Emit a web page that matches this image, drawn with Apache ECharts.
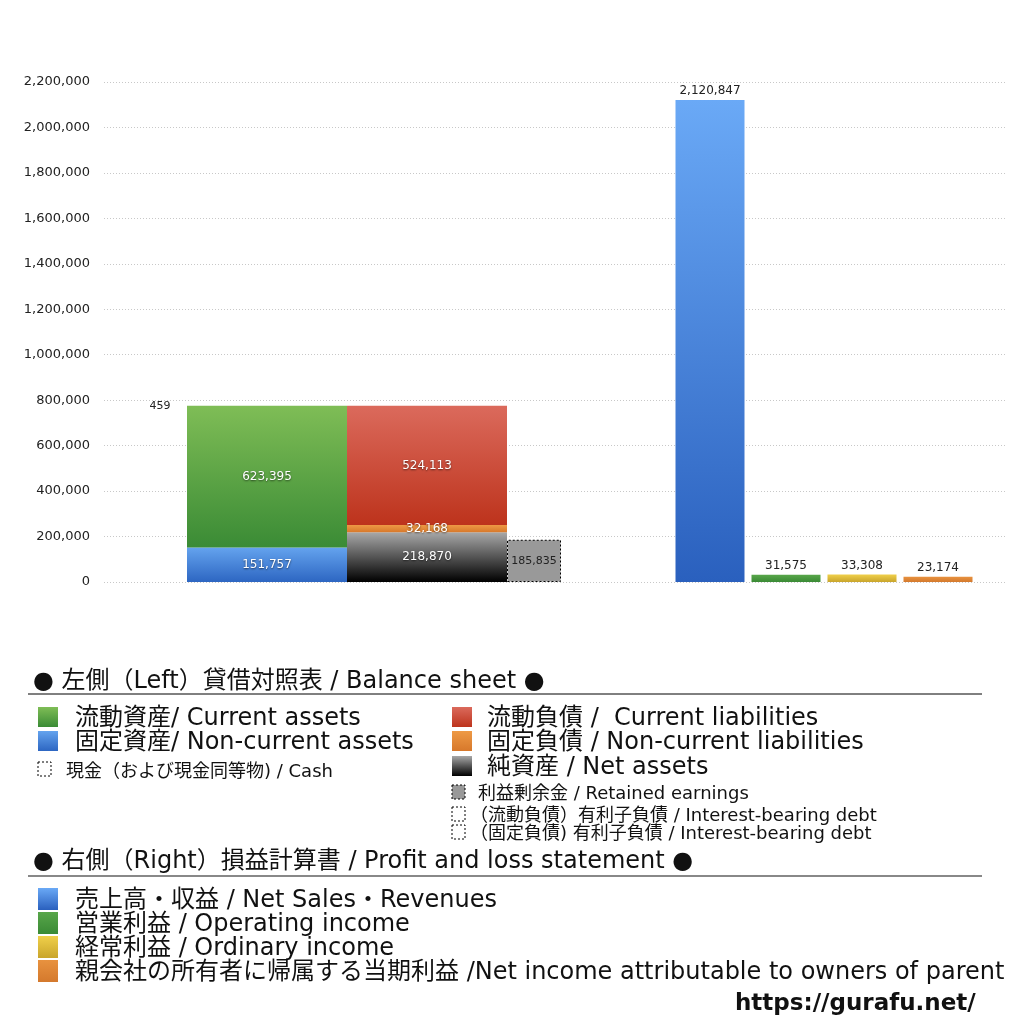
<!DOCTYPE html>
<html>
<head>
<meta charset="utf-8">
<script src="https://cdn.jsdelivr.net/npm/echarts@6/dist/echarts.min.js"></script>
<style>
  html, body { margin: 0; padding: 0; background: #fff; }
  #main { width: 1024px; height: 1024px; }
</style>
</head>
<body>
<div id="main"></div>
<script>
// balance sheet (left)
var cash = 459;
var currentAssets = 623395;
var nonCurrentAssets = 151757;
var currentLiabilities = 524113;
var nonCurrentLiabilities = 32168;
var netAssets = 218870;
var retainedEarnings = 185835;

// profit and loss (right)
var plNames = ['売上高・収益', '営業利益', '経常利益', '親会社株主に帰属する当期純利益'];
var plValues = [2120847, 31575, 33308, 23174];

var yTicks = { min: 0, max: 2200000, interval: 200000 };

// latin glyphs from DejaVu, japanese falls back to Noto CJK
var FONT = '"DejaVu Sans", "Noto Sans CJK JP", sans-serif';

function grad(top, bottom) {
  return { type: 'linear', x: 0, y: 0, x2: 0, y2: 1,
    colorStops: [{ offset: 0, color: top }, { offset: 1, color: bottom }] };
}

var C = {
  green: grad('#7fbd56', '#3a8b35'),
  blue: grad('#64a3ee', '#2d66c2'),
  red: grad('#db6a5c', '#bd331c'),
  orange: grad('#ee9a45', '#d7782b'),
  black: grad('#a8a8a8', '#000000'),
  gray: '#999999',
  plBlue: grad('#6aa9f6', '#2a60be'),
  plGreen: grad('#58a64a', '#3a8a35'),
  plYellow: grad('#f0d04a', '#c9a52c'),
  plOrange: grad('#e8923f', '#d4792d')
};

var plColors = [C.plBlue, C.plGreen, C.plYellow, C.plOrange];

function fmt(p) { return p.value.toLocaleString('en-US'); }

var inLabel = {
  show: true, position: 'inside', color: '#fff', fontSize: 12, fontFamily: FONT,
  textShadowColor: 'rgba(0,0,0,0.6)', textShadowBlur: 2, textShadowOffsetY: 1,
  formatter: fmt
};

function bsBar(name, stack, width, value, color, extra) {
  var s = {
    name: name, type: 'bar', xAxisIndex: 1, yAxisIndex: 1, stack: stack,
    barWidth: width, barGap: 0, barCategoryGap: 0,
    data: [value], itemStyle: { color: color }, label: inLabel
  };
  for (var k in extra) s[k] = extra[k];
  return s;
}

var series = [
  // cash box sits on top of the assets column
  bsBar('cashBase', 'cash', 54, currentAssets + nonCurrentAssets, 'transparent',
    { label: { show: false }, silent: true }),
  bsBar('現金', 'cash', 54, cash, 'transparent', {
    itemStyle: { color: 'transparent' },
    label: { show: true, position: 'inside', color: '#222', fontSize: 11, fontFamily: FONT }
  }),
  bsBar('固定資産', 'assets', 160, nonCurrentAssets, C.blue),
  bsBar('流動資産', 'assets', 160, currentAssets, C.green),
  bsBar('純資産', 'liab', 160, netAssets, C.black),
  bsBar('固定負債', 'liab', 160, nonCurrentLiabilities, C.orange),
  bsBar('流動負債', 'liab', 160, currentLiabilities, C.red),
  bsBar('利益剰余金', 'retained', 54, retainedEarnings, C.gray, {
    itemStyle: { color: C.gray, borderColor: '#000', borderWidth: 1, borderType: [2, 2] },
    label: { show: true, position: 'inside', color: '#222', fontSize: 11, fontFamily: FONT, formatter: fmt }
  }),
  {
    name: 'PL', type: 'bar', xAxisIndex: 2, yAxisIndex: 2, barWidth: 69,
    data: plValues.map(function (v, i) { return { value: v, itemStyle: { color: plColors[i] } }; }),
    label: { show: true, position: 'top', color: '#222', fontSize: 12, fontFamily: FONT, distance: 3, formatter: fmt }
  }
];

// legend block under the chart
var graphics = [];
function txt(x, y, s, size, extra) {
  var g = { type: 'text',
    style: { x: x, y: y + 2, text: s, fontSize: size, fontFamily: FONT, fill: '#111', verticalAlign: 'middle' } };
  if (extra) for (var k in extra) g.style[k] = extra[k];
  graphics.push(g);
}
function box(x, y, w, h, fill, isDashed) {
  graphics.push({ type: 'rect', shape: { x: x, y: y, width: w, height: h },
    style: isDashed ? { fill: fill || 'transparent', stroke: '#000', lineWidth: 1, lineDash: [2, 2] } : { fill: fill } });
}

txt(33, 680, '● 左側（Left）貸借対照表 / Balance sheet ●', 24);
graphics.push({ type: 'line', shape: { x1: 28, y1: 694, x2: 982, y2: 694 }, style: { stroke: '#000', lineWidth: 1 } });

box(38, 707, 20, 20, C.green); txt(75, 717, '流動資産/ Current assets', 24);
box(38, 731, 20, 20, C.blue); txt(75, 741, '固定資産/ Non-current assets', 24);
box(38, 762, 13, 14, null, true); txt(66, 770, '現金（および現金同等物) / Cash', 18);

box(452, 707, 20, 20, C.red); txt(487, 717, '流動負債 /  Current liabilities', 24);
box(452, 731, 20, 20, C.orange); txt(487, 741, '固定負債 / Non-current liabilities', 24);
box(452, 756, 20, 20, C.black); txt(487, 766, '純資産 / Net assets', 24);
box(452, 785, 13, 14, C.gray, true); txt(478, 792, '利益剰余金 / Retained earnings', 18);
box(452, 807, 13, 14, null, true); txt(470, 814, '（流動負債）有利子負債 / Interest-bearing debt', 18);
box(452, 825, 13, 14, null, true); txt(470, 832, '（固定負債) 有利子負債 / Interest-bearing debt', 18);

txt(33, 860, '● 右側（Right）損益計算書 / Profit and loss statement ●', 24);
graphics.push({ type: 'line', shape: { x1: 28, y1: 876, x2: 982, y2: 876 }, style: { stroke: '#888', lineWidth: 2 } });

var plLegend = ['売上高・収益 / Net Sales・Revenues', '営業利益 / Operating income',
  '経常利益 / Ordinary income', '親会社の所有者に帰属する当期利益 /Net income attributable to owners of parent'];
plLegend.forEach(function (s, i) {
  box(38, 888 + i * 24, 20, 22, plColors[i]);
  txt(75, 899 + i * 24, s, 24);
});

txt(735, 1002, 'https://gurafu.net/', 23, { fontWeight: 'bold' });

var hiddenY = function (idx) {
  return { type: 'value', gridIndex: idx, min: yTicks.min, max: yTicks.max, interval: yTicks.interval,
    show: false, splitLine: { show: false } };
};

var option = {
  animation: false,
  backgroundColor: '#fff',
  grid: [
    { left: 104, right: 19, top: 82, bottom: 442 },
    { left: 100, width: 494, top: 82, bottom: 442 },
    { left: 672, width: 304, top: 82, bottom: 442 }
  ],
  xAxis: [
    { type: 'category', gridIndex: 0, data: [''], show: false },
    { type: 'category', gridIndex: 1, data: ['貸借対照表'], show: false },
    { type: 'category', gridIndex: 2, data: plNames, show: false }
  ],
  yAxis: [
    {
      type: 'value', gridIndex: 0, min: yTicks.min, max: yTicks.max, interval: yTicks.interval,
      axisLine: { show: false }, axisTick: { show: false },
      axisLabel: { color: '#222', fontSize: 13, fontFamily: FONT, margin: 14,
        formatter: function (v) { return v.toLocaleString('en-US'); } },
      splitLine: { lineStyle: { color: '#c8c8c8', type: [1, 2], width: 1 } }
    },
    hiddenY(1),
    hiddenY(2)
  ],
  series: series,
  graphic: graphics
};

var chart = echarts.init(document.getElementById('main'));
chart.setOption(option);
</script>
</body>
</html>
